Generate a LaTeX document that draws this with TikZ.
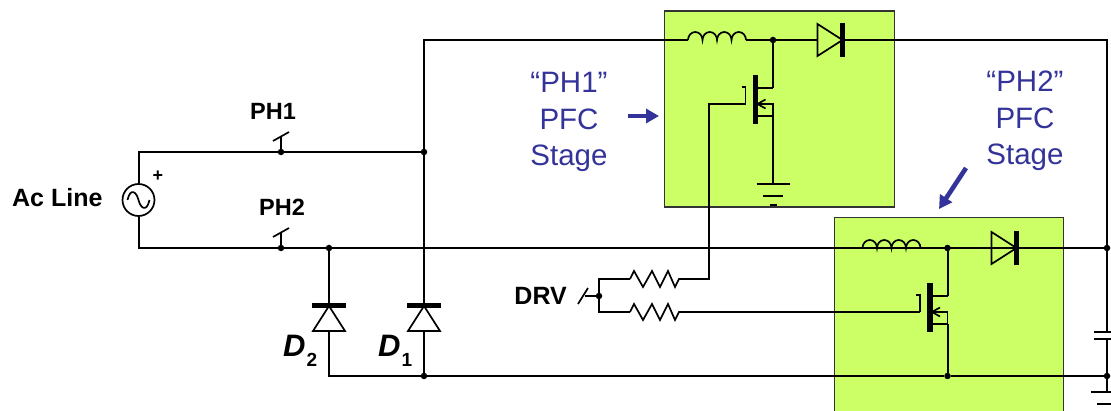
\documentclass[tikz,border=0pt]{standalone}
\usepackage{fontspec}
\setmainfont{Liberation Sans}
\usetikzlibrary{positioning,arrows.meta}
\definecolor{stagegreen}{HTML}{CCFF66}
\definecolor{stageblue}{HTML}{333399}
\tikzset{
  wire/.style={line width=2pt,line join=miter},
  thin wire/.style={line width=1.7pt},
  stagebox/.style={draw=black!80,line width=1.5pt,fill=stagegreen},
  dotnode/.style={circle,fill=black,inner sep=0pt,minimum size=6.5pt},
  lbl/.style={inner sep=0pt,font=\fontsize{23.5}{26}\selectfont\bfseries},
  biglbl/.style={inner sep=0pt,font=\fontsize{25}{27}\selectfont\bfseries},
  bluelbl/.style={inner sep=0pt,align=center,text=stageblue,font=\fontsize{29.5}{36.5}\selectfont},
  bluearrow/.style={draw=stageblue,line width=4.6pt,-{Triangle[length=13pt,width=14pt]}},
  pics/diode/.style={code={
    \draw[thin wire,line join=miter] (-25,-16) -- (0,0) -- (-25,16) -- cycle;
    \fill (-2.5,-17) rectangle (2.5,17);
    \coordinate (-in) at (-25,0);
    \coordinate (-out) at (0,0);
  }},
  pics/inductor/.style={code={
    \draw[thin wire] (0,0) arc[start angle=180,end angle=0,x radius=7.25pt,y radius=8pt]
      arc[start angle=180,end angle=0,x radius=7.25pt,y radius=8pt]
      arc[start angle=180,end angle=0,x radius=7.25pt,y radius=8pt]
      arc[start angle=180,end angle=0,x radius=7.25pt,y radius=8pt];
    \coordinate (-in) at (0,0);
    \coordinate (-out) at (58,0);
  }},
  pics/resistor/.style={code={
    \draw[thin wire] (0,0) -- (4,-8) -- (13,8) -- (22,-8) -- (30,8) -- (38,-8) -- (45,8) -- (49,0) -- (50,0);
    \coordinate (-in) at (0,0);
    \coordinate (-out) at (50,0);
  }},
  pics/mosfet/.style={code={
    \fill (-2.6,-29) rectangle (2.6,20);
    \draw[thin wire] (-14,-17) -- (-10,-17) -- (-10,0);
    \draw[thin wire] (2,-16) -- (17.5,-16);
    \draw[thin wire] (2,12) -- (17.5,12) -- (17.5,0) -- (2,0);
    \draw[thin wire] (10,-4.5) -- (2,0) -- (10,4.5);
    \coordinate (-gate) at (-10,0);
    \coordinate (-drain) at (17.5,-16);
    \coordinate (-source) at (17.5,12);
  }},
  pics/gnd/.style={code={
    \draw[wire] (-16.5,0) -- (16.5,0);
    \draw[wire] (-10,12) -- (10,12);
    \draw[wire] (-3.5,21) -- (3.5,21);
    \coordinate (-top) at (0,0);
  }},
  pics/switch/.style={code={
    \draw[thin wire] (0,0) -- (0,-15);
    \draw[thin wire] (-8,-11) -- (8,-20);
    \coordinate (-top) at (0,-20);
  }}
}
\begin{document}
\begin{tikzpicture}[x=1pt,y=-1pt]
  \useasboundingbox (0,0) rectangle (1111,411);
  % Stages
  \node[stagebox,anchor=north west,minimum width=230pt,minimum height=196pt,inner sep=0pt] (stageA) at (663.5,10.5) {}; %
  \node[stagebox,anchor=north west,minimum width=229pt,minimum height=220pt,inner sep=0pt] (stageB) at (833.5,217) {}; %
  % Junctions
  \node[dotnode] (swjA) at (281,152) {}; %
  \node[dotnode] (swjB) at (281,248) {}; %
  \node[dotnode] (jtop) at (424,152) {}; %
  \node[dotnode] (jD) at (329,248) {}; %
  \node[dotnode] (jbot) at (424,376) {}; %
  \node[dotnode] (jA) at (773,40) {}; %
  \node[dotnode] (jB) at (947.5,248) {}; %
  \node[dotnode] (jS) at (947.5,376) {}; %
  \node[dotnode] (jR) at (1107,248) {}; %
  \node[dotnode] (jG) at (1107,376) {}; %
  \node[dotnode] (jdrv) at (599,296) {}; %
  % Source
  \node[draw,circle,line width=1.7pt,minimum size=32pt,inner sep=0pt] (acsrc) at (138.5,200) {}; %
  \draw[thin wire,shift={(acsrc.center)}] (-11,0) .. controls (-8,-13) and (-2,-8) .. (0,0) .. controls (2,8) and (8,13) .. (11,0);
  \coordinate (cnrA) at (138.5,152); %
  \coordinate (cnrB) at (138.5,248); %
  \coordinate (cnrC) at (424,40); %
  \coordinate (cnrD) at (1107,40); %
  \coordinate (cnrE) at (329,376); %
  \coordinate (cnrF) at (709,104); %
  % Symbols
  \pic (dA) at (842.5,40) {diode}; %
  \pic (dB) at (1016.5,248) {diode}; %
  \pic[rotate=90] (dOne) at (424,306) {diode}; %
  \pic[rotate=90] (dTwo) at (329,306) {diode}; %
  \pic (indA) at (688,40) {inductor}; %
  \pic (indB) at (862.5,248) {inductor}; %
  \pic (rA) at (630,279) {resistor}; %
  \pic (rB) at (630,312) {resistor}; %
  \pic (qA) at (755.5,104) {mosfet}; %
  \pic (qB) at (930,312) {mosfet}; %
  \pic (gndA) at (773,184) {gnd}; %
  \pic (gndB) at (1107,392) {gnd}; %
  \pic (swA) at (swjA) {switch}; %
  \pic (swB) at (swjB) {switch}; %
  % Output capacitor
  \coordinate (capT) at (1107,332); %
  \coordinate (capB) at (1107,339); %
  \draw[wire] (1094,332) -- (1120,332);
  \draw[wire] (1094,339) -- (1120,339);
  \node[inner sep=0pt,font=\fontsize{14}{14}\selectfont\bfseries] (plusR) at (1115,323) {+}; %
  % Wires
  \draw[wire] (acsrc.north) -- (cnrA) -- (swjA) -- (jtop);
  \draw[wire] (acsrc.south) -- (cnrB) -- (swjB) -- (jD) -- (jR);
  \draw[wire] (dOne-out) -- (jtop) -- (cnrC) -- (indA-in);
  \draw[wire] (indA-out) -- (jA) -- (dA-in);
  \draw[wire] (dA-out) -- (cnrD) -- (jR) -- (capT);
  \draw[wire] (capB) -- (jG) -- (gndB-top);
  \draw[wire] (jD) -- (dTwo-out);
  \draw[wire] (dTwo-in) -- (cnrE) -- (jbot) -- (jS) -- (jG);
  \draw[wire] (dOne-in) -- (jbot);
  \draw[wire] (indB-out) -- (jB) -- (dB-in);
  \draw[wire] (dB-out) -- (jR);
  \draw[wire] (jA) -- (qA-drain);
  \draw[wire] (qA-source) -- (gndA-top);
  \draw[wire] (jB) -- (qB-drain);
  \draw[wire] (qB-source) -- (jS);
  \draw[wire] (jdrv) |- (rA-in);
  \draw[wire] (jdrv) |- (rB-in);
  \draw[wire] (rA-out) -| (cnrF) -- (qA-gate);
  \draw[wire] (rB-out) -- (qB-gate);
  % DRV input
  \coordinate (drvend) at (585,296); %
  \coordinate (drvhi) at (588,288); %
  \coordinate (drvlo) at (578,304); %
  \draw[wire] (jdrv) -- (drvend);
  \draw[thin wire] (drvlo) -- (drvhi);
  % Labels
  \node[biglbl,left=18pt of drvend] (drvlbl) {DRV}; %
  \node[lbl,above=12pt of swA-top,xshift=-8pt] (phA) {PH1}; %
  \node[lbl,above=12pt of swB-top,xshift=1pt] (phB) {PH2}; %
  \node[biglbl,left=19pt of acsrc,yshift=2pt] (aclbl) {Ac Line}; %
  \node[lbl,font=\fontsize{18}{18}\selectfont\bfseries] (plusL) at (158,176) {+}; %
  \node[lbl,anchor=base west] (lblDone) at (378,357) {\fontsize{31}{31}\selectfont\itshape D\raisebox{-9.5pt}{\hspace{1pt}\fontsize{19}{19}\selectfont\upshape 1}}; %
  \node[lbl,anchor=base west] (lblDtwo) at (283,357) {\fontsize{31}{31}\selectfont\itshape D\raisebox{-9.5pt}{\hspace{1pt}\fontsize{19}{19}\selectfont\upshape 2}}; %
  \node[bluelbl] (txtA) at (569,122) {“PH1”\\PFC\\Stage}; %
  \node[bluelbl] (txtB) at (1025,121) {“PH2”\\PFC\\Stage}; %
  % Arrows
  \coordinate (arrAs) at (628,116); %
  \coordinate (arrAe) at (659,116); %
  \coordinate (arrBs) at (966,168); %
  \coordinate (arrBe) at (939,209); %
  \draw[bluearrow] (arrAs) -- (arrAe);
  \draw[bluearrow] (arrBs) -- (arrBe);
\end{tikzpicture}
\end{document}
